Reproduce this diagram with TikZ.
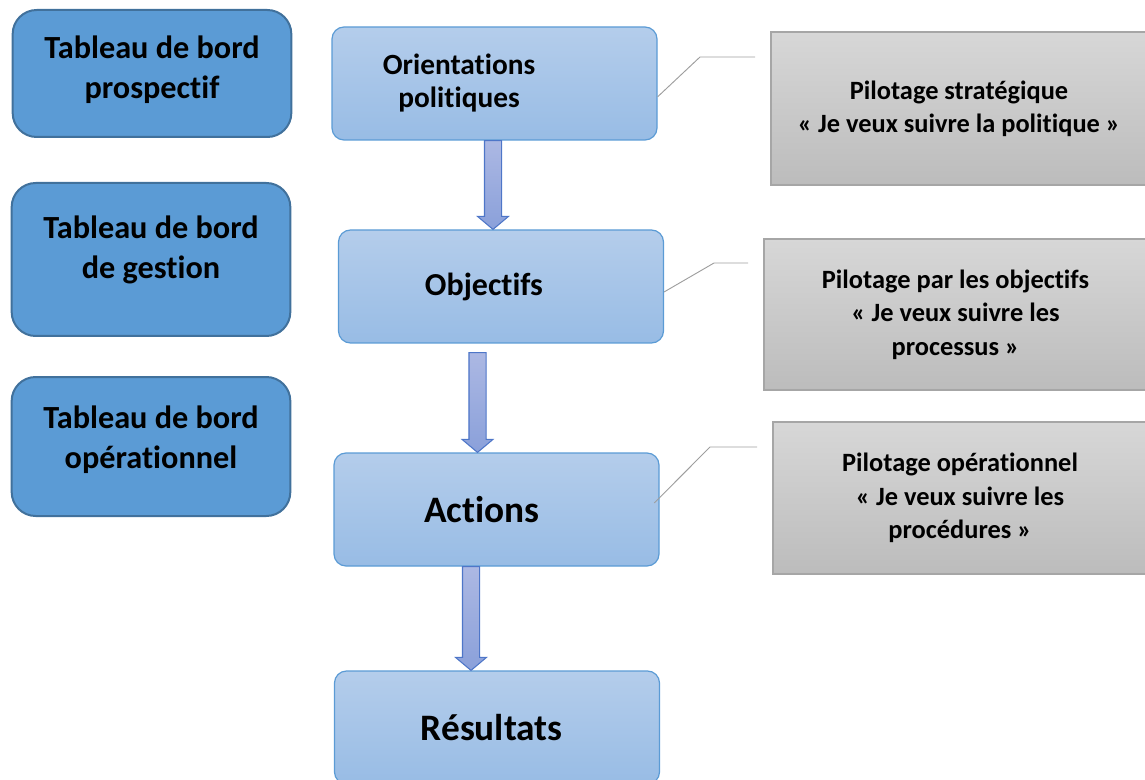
\documentclass[tikz,border=0pt]{standalone}
\usepackage{fontspec}
\setmainfont{Carlito}[Ligatures=NoCommon]
\usetikzlibrary{calc}

\definecolor{bleufonce}{RGB}{91,155,213}
\definecolor{bordfonce}{RGB}{65,113,156}
\definecolor{bleuhaut}{RGB}{180,205,235}
\definecolor{bleubas}{RGB}{152,188,229}
\definecolor{bordclair}{RGB}{91,155,213}
\definecolor{grishaut}{RGB}{215,215,215}
\definecolor{grisbas}{RGB}{188,188,188}
\definecolor{bordgris}{RGB}{166,166,166}
\definecolor{flechehaut}{RGB}{172,184,227}
\definecolor{flechebas}{RGB}{138,160,218}
\definecolor{bordfleche}{RGB}{78,118,200}

\tikzstyle{tdb} = [rectangle, rounded corners=18pt, fill=bleufonce, draw=bordfonce, line width=1.5pt, minimum width=209pt, inner sep=0pt]
\tikzstyle{textetdb} = [font=\fontsize{24.2}{30}\selectfont\bfseries, align=center, text=black]
\tikzstyle{etape} = [rectangle, rounded corners=9pt, top color=bleuhaut, bottom color=bleubas, draw=bordclair, line width=0.9pt, minimum width=243.75pt, minimum height=84.75pt, inner sep=0pt]
\tikzstyle{pilotage} = [rectangle, top color=grishaut, bottom color=grisbas, draw=bordgris, line width=0.8pt, inner sep=0pt, align=center, font=\fontsize{19.8}{25}\selectfont\bfseries]
\tikzstyle{flechebloc} = [top color=flechehaut, bottom color=flechebas, draw=bordfleche, line width=0.8pt, line join=miter]
\tikzstyle{rappel} = [draw=black!38, line width=0.7pt]

% fleche bloc : [decalage depart] source, cible, abscisse
\newcommand{\fleche}[4][0pt]{%
  \draw[flechebloc] let \p1=(#2.south), \p2=(#3.north), \p3=(#4,0) in
    (\x3-6.4pt,\y1-#1) -- (\x3+6.4pt,\y1-#1) -- (\x3+6.4pt,\y2+9.75pt)
    -- (\x3+11.6pt,\y2+9.75pt) -- (\x3,\y2) -- (\x3-11.6pt,\y2+9.75pt)
    -- (\x3-6.4pt,\y2+9.75pt) -- cycle;}

\begin{document}
\begin{tikzpicture}[x=0.75pt, y=-0.75pt]
    \useasboundingbox (0,0) rectangle (1145,780);

    % tableaux de bord
    \node [tdb, minimum height=95.25pt, label={[textetdb, yshift=2.8pt]center:{Tableau de bord\\prospectif}}] at (152,73.5) (tdb1) {};
    \node [tdb, minimum height=114.75pt, label={[textetdb, yshift=7pt]center:{Tableau de bord\\de gestion}}] at (151,259.5) (tdb2) {};
    \node [tdb, minimum height=104.25pt, label={[textetdb, yshift=5pt]center:{Tableau de bord\\op\'erationnel}}] at (151,446.5) (tdb3) {};

    % etapes
    \node [etape, label={[font=\fontsize{22}{24.75}\selectfont\bfseries, align=center, xshift=-26.6pt]center:{Orientations\\politiques}}] at (494.5,83.5) (orient) {};
    \node [etape, label={[font=\fontsize{24}{29}\selectfont\bfseries, xshift=-12.75pt]center:Objectifs}] at (501,286.5) (obj) {};
    \node [etape, label={[font=\fontsize{28}{34}\selectfont\bfseries, xshift=-11pt]center:Actions}] at (496.5,509.5) (act) {};
    \node [etape, label={[font=\fontsize{28}{34}\selectfont\bfseries, xshift=-4pt]center:R\'esultats}] at (497,727.5) (res) {};

    % pilotage
    \node [pilotage, minimum width=282pt, minimum height=114.75pt] at (959,108.5) (pil1) {Pilotage strat\'egique\\ \guillemotleft~Je veux suivre la politique~\guillemotright};
    \node [pilotage, minimum width=287.25pt, minimum height=113.25pt] at (955.5,314.5) (pil2) {Pilotage par les objectifs\\\guillemotleft~Je veux suivre les\\processus~\guillemotright};
    \node [pilotage, minimum width=280.5pt, minimum height=114pt] at (960,498) (pil3) {Pilotage op\'erationnel\\\guillemotleft~Je veux suivre les\\proc\'edures~\guillemotright};

    \fleche{orient}{obj}{493}
    \fleche[6.75pt]{obj}{act}{477.5}
    \fleche{act}{res}{471}

    \coordinate (coude1) at (700,57);
    \coordinate (fin1) at (755,57);
    \coordinate (coude2) at (714,263);
    \coordinate (fin2) at (748,263);
    \coordinate (coude3) at (710,447);
    \coordinate (fin3) at (757,447);
    \draw [rappel] ([yshift=-10pt]orient.east) -- (coude1) -- (fin1);
    \draw [rappel] ([yshift=-4.1pt]obj.east) -- (coude2) -- (fin2);
    \draw [rappel] ([yshift=4.9pt, xshift=-4pt]act.east) -- (coude3) -- (fin3);
\end{tikzpicture}
\end{document}
